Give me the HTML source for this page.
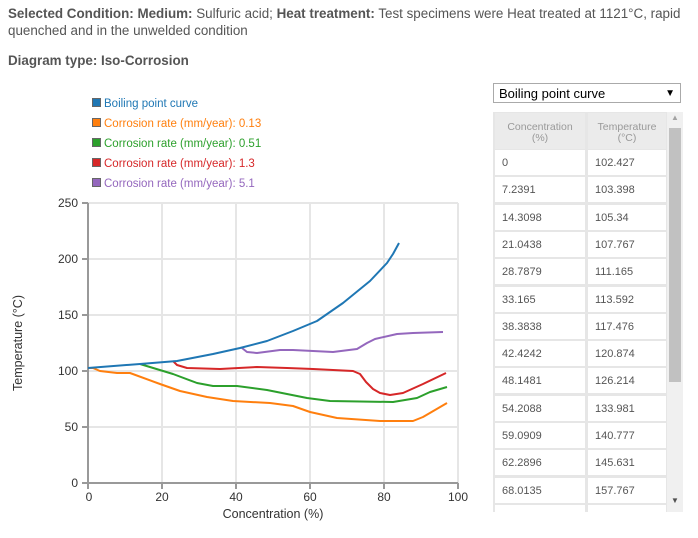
<!DOCTYPE html>
<html><head><meta charset="utf-8"><style>
body{margin:0;width:698px;height:538px;background:#fff;font-family:"Liberation Sans",sans-serif;color:#555;position:relative;overflow:hidden}
.a{position:absolute;white-space:nowrap}
.c{position:absolute;background:#fff;font-size:11px;color:#555;line-height:27px;padding-left:7px;box-sizing:border-box}
.h{position:absolute;background:#ebebeb;font-size:10.5px;color:#999;text-align:center;line-height:11px;padding-top:9px;box-sizing:border-box}
.lg{position:absolute;left:92px;font-size:11.5px}
.lg i{display:inline-block;width:7px;height:7px;border:1px solid #666;margin-right:3px;vertical-align:0px}
</style></head><body>
<div class="a" style="left:8px;top:5px;font-size:13.4px;line-height:17px;white-space:normal;width:690px"><b>Selected Condition: Medium:</b> Sulfuric acid; <b>Heat treatment:</b> Test specimens were Heat treated at 1121°C, rapid quenched and in the unwelded condition</div>
<div class="a" style="left:8px;top:53px;font-size:13.4px;font-weight:bold">Diagram type: Iso-Corrosion</div>

<div class="lg" style="top:98px;color:#1f77b4"><i style="background:#1f77b4"></i>Boiling point curve</div>
<div class="lg" style="top:118px;color:#ff7f0e"><i style="background:#ff7f0e"></i>Corrosion rate (mm/year): 0.13</div>
<div class="lg" style="top:138px;color:#2ca02c"><i style="background:#2ca02c"></i>Corrosion rate (mm/year): 0.51</div>
<div class="lg" style="top:158px;color:#d62728"><i style="background:#d62728"></i>Corrosion rate (mm/year): 1.3</div>
<div class="lg" style="top:178px;color:#9467bd"><i style="background:#9467bd"></i>Corrosion rate (mm/year): 5.1</div>

<svg class="a" style="left:0;top:0" width="490" height="538">
<g stroke="#e6e6e6" stroke-width="2">
<line x1="162" y1="203" x2="162" y2="483"/><line x1="236" y1="203" x2="236" y2="483"/><line x1="310" y1="203" x2="310" y2="483"/><line x1="384" y1="203" x2="384" y2="483"/><line x1="458" y1="203" x2="458" y2="483"/>
<line x1="87" y1="203" x2="458" y2="203"/><line x1="87" y1="259" x2="458" y2="259"/><line x1="87" y1="315" x2="458" y2="315"/><line x1="87" y1="371" x2="458" y2="371"/><line x1="87" y1="427" x2="458" y2="427"/>
</g>
<g stroke="#999" stroke-width="2"><line x1="88" y1="203" x2="88" y2="484"/><line x1="87" y1="483" x2="458" y2="483"/>
<line x1="82" y1="203" x2="88" y2="203"/><line x1="82" y1="259" x2="88" y2="259"/><line x1="82" y1="315" x2="88" y2="315"/><line x1="82" y1="371" x2="88" y2="371"/><line x1="82" y1="427" x2="88" y2="427"/><line x1="82" y1="483" x2="88" y2="483"/>
<line x1="88" y1="483" x2="88" y2="489"/><line x1="162" y1="483" x2="162" y2="489"/><line x1="236" y1="483" x2="236" y2="489"/><line x1="310" y1="483" x2="310" y2="489"/><line x1="384" y1="483" x2="384" y2="489"/><line x1="458" y1="483" x2="458" y2="489"/></g>
<g font-size="12" fill="#333" text-anchor="end" font-family="Liberation Sans,sans-serif">
<text x="78" y="207">250</text><text x="78" y="263">200</text><text x="78" y="319">150</text><text x="78" y="375">100</text><text x="78" y="431">50</text><text x="78" y="487">0</text></g>
<g font-size="12" fill="#333" text-anchor="middle" font-family="Liberation Sans,sans-serif">
<text x="89" y="501">0</text><text x="162" y="501">20</text><text x="236" y="501">40</text><text x="310" y="501">60</text><text x="384" y="501">80</text><text x="458" y="501">100</text>
<text x="273" y="518" font-size="12.5">Concentration (%)</text>
<text transform="translate(22,343) rotate(-90)" font-size="12.5">Temperature (°C)</text></g>
<g fill="none" stroke-width="2" stroke-linejoin="round">
<polyline stroke="#ff7f0e" points="88,368 93,368 100,371 117,373 130,373 160,384 180,391 207,397 233,401 270,403 293,406 310,412 337,418 380,421 413,421 423,417 447,403"/>
<polyline stroke="#2ca02c" points="140,364 173,374 197,383 213,386 237,386 267,390 307,398 330,401 393,402 417,398 430,392 447,387"/>
<polyline stroke="#d62728" points="173,361 177,365 187,368 220,369 257,367 287,368 313,369 353,371 360,374 366,382 373,389 380,393 390,395 403,393 423,384 446,373"/>
<polyline stroke="#9467bd" points="242,348 247,352 257,353 280,350 293,350 313,351 333,352 357,349 367,343 375,339 397,334 413,333 443,332"/>
<polyline stroke="#1f77b4" points="88,368 140,364 177,361 213,354 240,348 267,341 293,331 317,321 343,303 370,281 387,263 393,254 399,243"/>
</g></svg>

<div class="a" style="left:493px;top:83px;width:188px;height:20px;border:1px solid #aaa;font-size:13px;color:#000;line-height:19px;padding-left:5px;box-sizing:border-box">Boiling point curve<span style="position:absolute;right:5px;font-size:10px">▼</span></div>

<div class="a" style="left:493px;top:112px;width:190px;height:400px;background:#e6e6e6;overflow:hidden">
<div class="h" style="left:2px;top:1px;width:90px;height:36px">Concentration<br>(%)</div>
<div class="h" style="left:95px;top:1px;width:78px;height:36px">Temperature<br>(°C)</div>
<div style="position:absolute;left:174px;top:0;width:16px;height:400px;background:#f0f0f0"></div>
<div style="position:absolute;left:176px;top:16px;width:12px;height:254px;background:#c1c1c1"></div>
<div class="a" style="left:178px;top:1px;font-size:8px;color:#a3a3a3">▲</div>
<div class="a" style="left:178px;top:384px;font-size:8px;color:#505050">▼</div>
</div>
<div id="rows"></div>
<script>
var d=[["0","102.427"],["7.2391","103.398"],["14.3098","105.34"],["21.0438","107.767"],["28.7879","111.165"],["33.165","113.592"],["38.3838","117.476"],["42.4242","120.874"],["48.1481","126.214"],["54.2088","133.981"],["59.0909","140.777"],["62.2896","145.631"],["68.0135","157.767"],["",""]];
var h="";for(var i=0;i<d.length;i++){var t=150+i*27.3;var hh=Math.min(25,512-t);h+='<div class="c" style="left:495px;top:'+t+'px;width:90px;height:'+hh+'px">'+d[i][0]+'</div><div class="c" style="left:588px;top:'+t+'px;width:78px;height:'+hh+'px">'+d[i][1]+'</div>';}
document.getElementById("rows").innerHTML=h;
</script>
</body></html>
